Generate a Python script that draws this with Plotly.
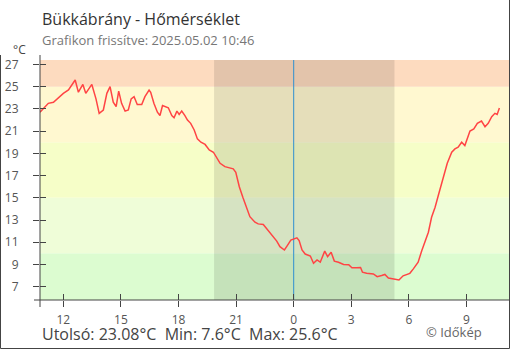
import plotly.graph_objects as go

# ---- data ----
times = [
    "2025-05-01 10:47", "2025-05-01 10:58", "2025-05-01 11:13", "2025-05-01 11:29", "2025-05-01 11:44",
    "2025-05-01 12:00", "2025-05-01 12:16", "2025-05-01 12:26", "2025-05-01 12:37", "2025-05-01 12:47",
    "2025-05-01 13:01", "2025-05-01 13:10", "2025-05-01 13:29", "2025-05-01 13:42", "2025-05-01 13:52",
    "2025-05-01 14:05", "2025-05-01 14:16", "2025-05-01 14:26", "2025-05-01 14:36", "2025-05-01 14:45",
    "2025-05-01 14:53", "2025-05-01 15:02", "2025-05-01 15:13", "2025-05-01 15:23", "2025-05-01 15:32",
    "2025-05-01 15:41", "2025-05-01 15:51", "2025-05-01 16:05", "2025-05-01 16:15", "2025-05-01 16:28",
    "2025-05-01 16:33", "2025-05-01 16:43", "2025-05-01 16:54", "2025-05-01 17:02", "2025-05-01 17:10",
    "2025-05-01 17:28", "2025-05-01 17:39", "2025-05-01 17:46", "2025-05-01 17:55", "2025-05-01 18:02",
    "2025-05-01 18:10", "2025-05-01 18:20", "2025-05-01 18:28", "2025-05-01 18:38", "2025-05-01 18:49",
    "2025-05-01 18:59", "2025-05-01 19:10", "2025-05-01 19:23", "2025-05-01 19:36", "2025-05-01 19:49",
    "2025-05-01 20:10", "2025-05-01 20:25", "2025-05-01 20:51", "2025-05-01 20:59", "2025-05-01 21:10",
    "2025-05-01 21:21", "2025-05-01 21:33", "2025-05-01 21:43", "2025-05-01 21:59", "2025-05-01 22:09",
    "2025-05-01 22:25", "2025-05-01 22:36", "2025-05-01 22:51", "2025-05-01 23:07", "2025-05-01 23:17",
    "2025-05-01 23:31", "2025-05-01 23:40", "2025-05-01 23:51", "2025-05-02 00:10", "2025-05-02 00:17",
    "2025-05-02 00:26", "2025-05-02 00:36", "2025-05-02 00:52", "2025-05-02 01:02", "2025-05-02 01:13",
    "2025-05-02 01:23", "2025-05-02 01:37", "2025-05-02 01:46", "2025-05-02 01:57", "2025-05-02 02:07",
    "2025-05-02 02:20", "2025-05-02 02:36", "2025-05-02 02:52", "2025-05-02 03:02", "2025-05-02 03:17",
    "2025-05-02 03:29", "2025-05-02 03:35", "2025-05-02 03:48", "2025-05-02 04:09", "2025-05-02 04:21",
    "2025-05-02 04:35", "2025-05-02 04:45", "2025-05-02 04:56", "2025-05-02 05:11", "2025-05-02 05:29",
    "2025-05-02 05:42", "2025-05-02 06:03", "2025-05-02 06:14", "2025-05-02 06:29", "2025-05-02 06:40",
    "2025-05-02 06:50", "2025-05-02 07:01", "2025-05-02 07:11", "2025-05-02 07:22", "2025-05-02 07:32",
    "2025-05-02 07:39", "2025-05-02 07:50", "2025-05-02 08:00", "2025-05-02 08:14", "2025-05-02 08:24",
    "2025-05-02 08:34", "2025-05-02 08:45", "2025-05-02 08:55", "2025-05-02 09:02", "2025-05-02 09:11",
    "2025-05-02 09:23", "2025-05-02 09:34", "2025-05-02 09:47", "2025-05-02 09:58", "2025-05-02 10:08",
    "2025-05-02 10:19", "2025-05-02 10:29", "2025-05-02 10:36", "2025-05-02 10:43",
]
temps = [
    22.7, 23.0, 23.5, 23.6, 24.0,
    24.4, 24.7, 25.1, 25.6, 24.5,
    25.2, 24.4, 25.2, 23.9, 22.6,
    22.9, 24.4, 25.0, 23.6, 23.2,
    24.6, 23.5, 22.8, 22.9, 23.9,
    24.1, 23.4, 23.4, 24.1, 24.7,
    24.5, 23.5, 22.7, 22.4, 23.3,
    23.1, 22.4, 22.2, 22.8, 22.5,
    22.8, 22.4, 22.0, 21.7, 21.1,
    20.3, 20.0, 19.8, 19.3, 19.1,
    18.1, 17.8, 17.6, 17.3, 16.0,
    15.05, 14.0, 13.3, 12.8, 12.65,
    12.6, 12.2, 11.6, 11.1, 10.6,
    10.3, 10.7, 11.2, 11.4, 11.15,
    10.3, 9.94, 9.76, 9.1, 9.4,
    9.2, 10.2, 9.7, 10.1, 9.3,
    9.2, 9.0, 8.98, 8.7, 8.7,
    8.73, 8.3, 8.2, 8.14, 7.9,
    8.0, 8.1, 7.78, 7.68, 7.6,
    7.98, 8.2, 8.6, 9.2, 10.2,
    11.1, 11.9, 13.25, 14.15, 15.2,
    15.95, 17.2, 18.1, 19.1, 19.4,
    19.56, 20.0, 19.7, 20.3, 21.0,
    21.2, 21.7, 21.9, 21.4, 21.7,
    22.3, 22.6, 22.5, 23.08,
]
band_edges = [5.8, 10, 15, 20, 25, 27.4]
band_colors = ["#dcfcd0", "#effdd8", "#f6fec8", "#fff8d0", "#fddbbf"]
y_tickvals = [7, 9, 11, 13, 15, 17, 19, 21, 23, 25, 27]
x_tickvals = ["2025-05-01 12:00", "2025-05-01 15:00", "2025-05-01 18:00", "2025-05-01 21:00",
              "2025-05-02 00:00", "2025-05-02 03:00", "2025-05-02 06:00", "2025-05-02 09:00"]
x_ticktext = ["12", "15", "18", "21", "0", "3", "6", "9"]
night_start, night_end = "2025-05-01 19:51", "2025-05-02 05:15"
midnight = "2025-05-02 00:00"
x_range = ["2025-05-01 10:47", "2025-05-02 11:13"]
y_range = [5.8, 27.4]

title = "Bükkábrány - Hőmérséklet"
subtitle = "Grafikon frissítve: 2025.05.02 10:46"
summary = "Utolsó: 23.08°C  Min: 7.6°C  Max: 25.6°C"
credit = "© Időkép"

FONT = "Open Sans"
W, H = 510, 350
L, R, T, B = 40, 1, 60, 50
PW, PH = W - L - R, H - T - B


def px(xp):
    return (xp - L) / PW


def py(yp):
    return (H - B - yp) / PH


fig = go.Figure()
fig.add_trace(go.Scatter(x=times, y=temps, mode="lines",
                         line=dict(color="#ff4444", width=1.5, shape="linear"),
                         hoverinfo="skip", showlegend=False))
# invisible trace for overlay axes (inside ticks)
fig.add_trace(go.Scatter(x=[x_range[0]], y=[y_range[0]], xaxis="x2", yaxis="y2",
                         mode="markers", marker=dict(opacity=0), hoverinfo="skip",
                         showlegend=False))

shapes = []
for i, c in enumerate(band_colors):
    shapes.append(dict(type="rect", xref="paper", yref="y", x0=0, x1=1,
                       y0=band_edges[i], y1=band_edges[i + 1],
                       fillcolor=c, line=dict(width=0), layer="below"))
shapes.append(dict(type="rect", xref="x", yref="paper", x0=night_start, x1=night_end,
                   y0=0, y1=1, fillcolor="rgba(0,0,0,0.1)", line=dict(width=0), layer="below"))
shapes.append(dict(type="line", xref="x", yref="paper", x0=midnight, x1=midnight,
                   y0=0, y1=1, line=dict(color="#2f8fd0", width=1), layer="below"))
# axis lines with overhang
shapes.append(dict(type="line", xref="paper", yref="paper", x0=0, x1=0,
                   y0=py(307), y1=py(55), line=dict(color="#444", width=1)))
shapes.append(dict(type="line", xref="paper", yref="paper", x0=px(34), x1=1,
                   y0=0, y1=0, line=dict(color="#444", width=1)))
# outer frame
shapes.append(dict(type="line", xref="paper", yref="paper", x0=px(0.5), x1=px(0.5),
                   y0=py(55), y1=py(348.5), line=dict(color="#444", width=1)))
shapes.append(dict(type="line", xref="paper", yref="paper", x0=px(0.5), x1=px(509.5),
                   y0=py(348.5), y1=py(348.5), line=dict(color="#444", width=1)))
shapes.append(dict(type="line", xref="paper", yref="paper", x0=px(509.5), x1=px(509.5),
                   y0=py(0), y1=py(348.5), line=dict(color="#444", width=1)))

annotations = [
    dict(text=title, xref="paper", yref="paper", x=px(40), y=py(19), xanchor="left",
         yanchor="middle", showarrow=False, font=dict(family=FONT, size=16, color="#333")),
    dict(text=subtitle, xref="paper", yref="paper", x=px(40), y=py(40), xanchor="left",
         yanchor="middle", showarrow=False, font=dict(family=FONT, size=13, color="#777")),
    dict(text="°C", xref="paper", yref="paper", x=px(19), y=py(50), xanchor="center",
         yanchor="middle", showarrow=False, font=dict(family=FONT, size=12, color="#444")),
    dict(text=summary, xref="paper", yref="paper", x=px(40), y=py(334), xanchor="left",
         yanchor="middle", showarrow=False, font=dict(family=FONT, size=16, color="#444")),
    dict(text=credit, xref="paper", yref="paper", x=px(424), y=py(332), xanchor="left",
         yanchor="middle", showarrow=False, font=dict(family=FONT, size=13, color="#666")),
]

axis_common = dict(showgrid=False, zeroline=False, showline=False, ticklen=6,
                   tickwidth=1, tickcolor="#444",
                   tickfont=dict(family=FONT, size=12, color="#555"))

fig.update_layout(
    width=W, height=H, margin=dict(l=L, r=R, t=T, b=B, pad=0),
    paper_bgcolor="white", plot_bgcolor="white",
    showlegend=False, shapes=shapes, annotations=annotations,
    xaxis=dict(range=x_range, type="date", tickvals=x_tickvals, ticktext=x_ticktext,
               ticks="outside", ticklabelstandoff=3, **axis_common),
    yaxis=dict(range=y_range, tickvals=y_tickvals, ticks="outside",
               ticklabelstandoff=12, **axis_common),
    xaxis2=dict(range=x_range, type="date", tickvals=x_tickvals, ticks="inside",
                showticklabels=False, overlaying="x", anchor="y2", **axis_common),
    yaxis2=dict(range=y_range, tickvals=y_tickvals, ticks="inside",
                showticklabels=False, overlaying="y", anchor="x2", **axis_common),
)

fig.write_html("out.html", include_plotlyjs=True, config={"displayModeBar": False})
